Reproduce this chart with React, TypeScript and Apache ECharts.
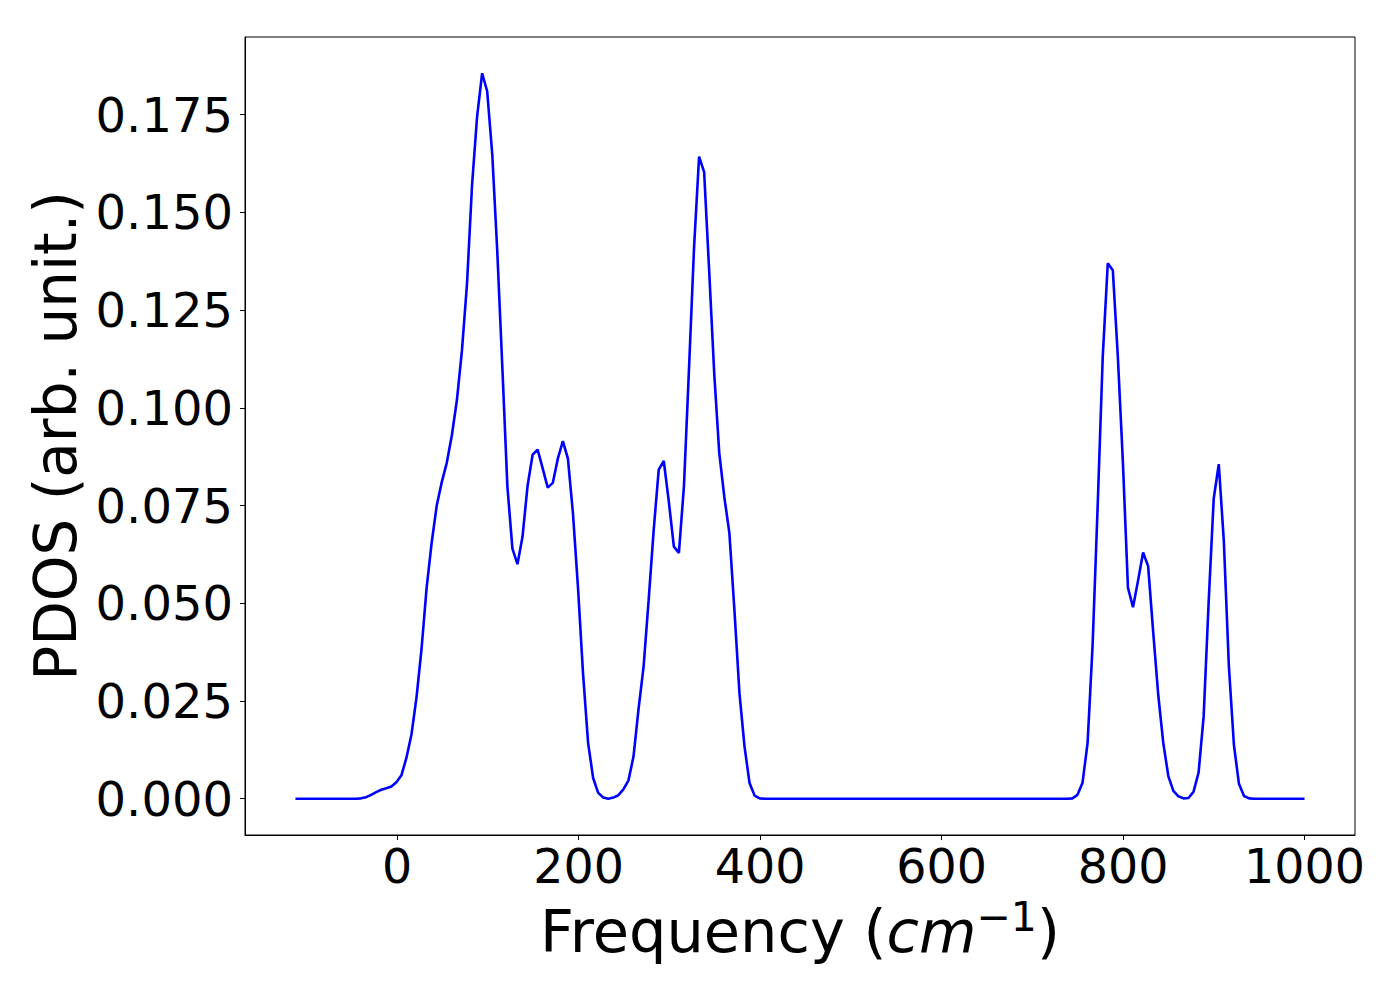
import React, { useEffect, useRef } from "react";
import * as echarts from "echarts";

// Frequency grid of the PDOS (cm^-1): uniform sampling from FREQ_START with FREQ_STEP
const FREQ_START = -112;
const FREQ_STEP = 5.56;

// PDOS values (arb. unit.), one per frequency sample
const PDOS_LOW = [
  0, 0, 0, 0, 0, 0, 0, 0, 0, 0, 0, 0, 0,
  0.0001, 0.0004, 0.001, 0.0017, 0.0023, 0.0027, 0.0031, 0.0042, 0.006, 0.0105,
  0.0165, 0.026, 0.0385, 0.054, 0.0655, 0.075, 0.081, 0.086, 0.093, 0.102,
  0.1147, 0.1317, 0.157, 0.1745, 0.1856, 0.181, 0.165, 0.14, 0.1105, 0.08,
  0.064, 0.06, 0.067, 0.08, 0.088, 0.0893, 0.0845, 0.0796, 0.0808, 0.087,
  0.0915, 0.087, 0.073, 0.054, 0.032, 0.0143, 0.0053, 0.0015, 0.0003, 0.0,
  0.0003, 0.0009, 0.0024, 0.0047, 0.0108, 0.023, 0.0338, 0.0508, 0.0687, 0.0842,
  0.0864, 0.076, 0.0645, 0.0629, 0.08, 0.11, 0.141, 0.1643, 0.1603, 0.135,
  0.1088, 0.0884, 0.0772, 0.068, 0.0483, 0.027, 0.0134, 0.004, 0.0008, 0.0001,
];
const PDOS_GAP = [
  0, 0, 0, 0, 0, 0, 0, 0, 0, 0, 0, 0, 0, 0, 0, 0, 0, 0, 0, 0,
  0, 0, 0, 0, 0, 0, 0, 0, 0, 0, 0, 0, 0, 0, 0, 0, 0, 0, 0, 0,
  0, 0, 0, 0, 0, 0, 0, 0, 0, 0, 0, 0, 0, 0, 0, 0, 0, 0, 0, 0, 0,
];
const PDOS_HIGH = [
  0.0001, 0.001, 0.0041, 0.0143, 0.0395, 0.075, 0.113, 0.137, 0.1352, 0.113,
  0.086, 0.054, 0.049, 0.0558, 0.063, 0.0595, 0.0427, 0.0266, 0.0143, 0.0058,
  0.002, 0.0006, 0.0001, 0.0002, 0.0018, 0.0067, 0.021, 0.0505, 0.0768, 0.0856,
  0.066, 0.034, 0.0138, 0.0038, 0.0007, 0.0001,
  0, 0, 0, 0, 0, 0, 0, 0, 0, 0, 0,
];
const PDOS = [...PDOS_LOW, ...PDOS_GAP, ...PDOS_HIGH];

const X_TICKS = [0, 200, 400, 600, 800, 1000];
const Y_TICKS = [0, 0.025, 0.05, 0.075, 0.1, 0.125, 0.15, 0.175];
const X_MIN = -167.6;
const X_MAX = 1055.6;
const Y_MIN = -0.00928;
const Y_MAX = 0.19488;
const Y_LABEL = "PDOS (arb. unit.)";

const FONT = "DejaVu Sans";

export default function App() {
  const ref = useRef<HTMLDivElement>(null);
  useEffect(() => {
    document.body.style.margin = "0";
    const chart = echarts.init(ref.current!, null, { renderer: "svg" });
    const data = PDOS.map((v, i) => [FREQ_START + i * FREQ_STEP, v]);
    chart.setOption({
      animation: false,
      backgroundColor: "#ffffff",
      grid: {
        left: 245,
        top: 37,
        width: 1110,
        height: 798,
        show: true,
        borderColor: "#000000",
        borderWidth: 1,
        backgroundColor: "transparent",
      },
      xAxis: {
        type: "value",
        min: X_MIN,
        max: X_MAX,
        axisLine: { show: true, onZero: false, lineStyle: { color: "#000", width: 1 } },
        axisTick: {
          show: true,
          inside: false,
          length: 5,
          customValues: X_TICKS,
          lineStyle: { color: "#000", width: 1 },
        },
        axisLabel: {
          customValues: X_TICKS,
          margin: 7,
          color: "#000",
          fontSize: 47.5,
          fontFamily: FONT,
          formatter: (v: number) => String(Math.round(v)),
        },
        splitLine: { show: false },
        name: "{a|Frequency (}{b|cm}{c|−1}{a|)}",
        nameLocation: "middle",
        nameGap: 61,
        nameTextStyle: {
          color: "#000",
          fontFamily: FONT,
          fontSize: 59,
          rich: {
            a: { fontFamily: FONT, fontSize: 59, lineHeight: 70, color: "#000" },
            b: { fontFamily: FONT, fontSize: 59, lineHeight: 70, fontStyle: "italic", color: "#000" },
            c: { fontFamily: FONT, fontSize: 41, lineHeight: 40, verticalAlign: "top", color: "#000" },
          },
        },
      },
      yAxis: {
        type: "value",
        min: Y_MIN,
        max: Y_MAX,
        axisLine: { show: true, onZero: false, lineStyle: { color: "#000", width: 1 } },
        axisTick: {
          show: true,
          inside: false,
          length: 5,
          customValues: Y_TICKS,
          lineStyle: { color: "#000", width: 1 },
        },
        axisLabel: {
          customValues: Y_TICKS,
          margin: 12,
          color: "#000",
          fontSize: 48,
          fontFamily: FONT,
          formatter: (v: number) => v.toFixed(3),
        },
        splitLine: { show: false },
        name: Y_LABEL,
        nameLocation: "middle",
        nameRotate: 90,
        nameGap: 154,
        nameTextStyle: { color: "#000", fontFamily: FONT, fontSize: 58, lineHeight: 58 },
      },
      series: [
        {
          type: "line",
          data,
          symbol: "none",
          showSymbol: false,
          smooth: false,
          lineStyle: { color: "#0000ff", width: 2.6 },
          itemStyle: { color: "#0000ff" },
        },
      ],
    });
    return () => chart.dispose();
  }, []);
  return <div ref={ref} style={{ width: 1400, height: 1000 }} />;
}
